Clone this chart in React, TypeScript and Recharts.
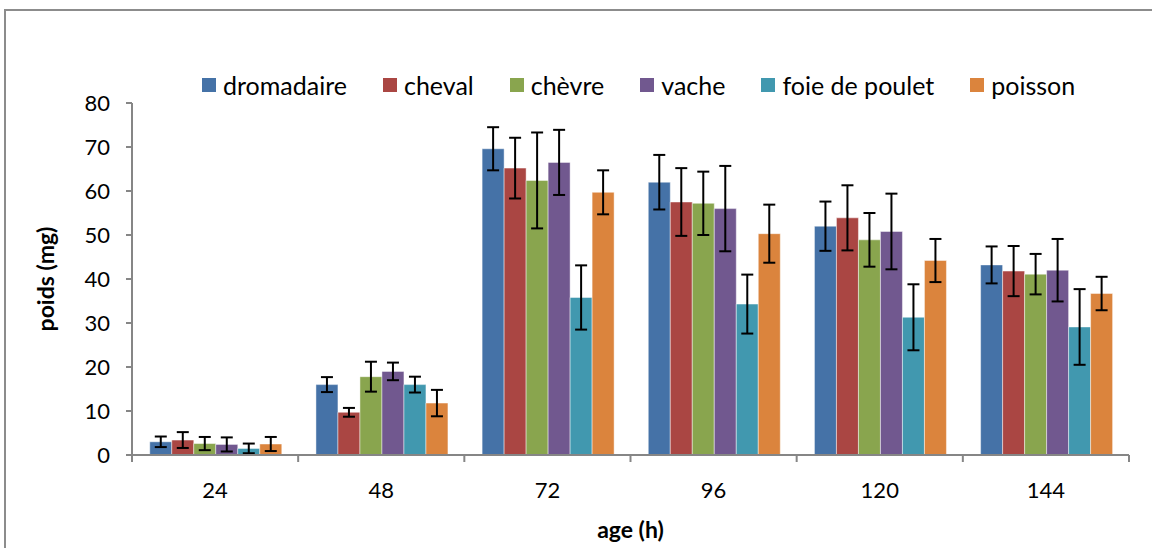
import { Bar, BarChart, ErrorBar, Label, XAxis, YAxis } from 'recharts'

// ages (h) and mean weights (mg) with their error bars
const ages = ['24', '48', '72', '96', '120', '144']

const dromadaire = [3.0, 16.0, 69.6, 62.0, 52.0, 43.2]
const dromadaireErr = [1.2, 1.7, 4.9, 6.2, 5.6, 4.2]
const cheval = [3.4, 9.7, 65.2, 57.5, 53.9, 41.8]
const chevalErr = [1.8, 1.0, 6.9, 7.7, 7.4, 5.7]
const chevre = [2.6, 17.8, 62.4, 57.2, 48.9, 41.1]
const chevreErr = [1.5, 3.4, 10.9, 7.2, 6.1, 4.6]
const vache = [2.4, 19.0, 66.5, 56.0, 50.8, 42.0]
const vacheErr = [1.6, 2.0, 7.4, 9.7, 8.6, 7.1]
const foie = [1.5, 16.0, 35.8, 34.3, 31.3, 29.1]
const foieErr = [1.1, 1.8, 7.3, 6.7, 7.5, 8.6]
const poisson = [2.5, 11.8, 59.7, 50.3, 44.2, 36.7]
const poissonErr = [1.6, 3.0, 5.0, 6.6, 4.9, 3.8]

const yTicks = [0, 10, 20, 30, 40, 50, 60, 70, 80]

const series = [
  { key: 'dromadaire', name: 'dromadaire', values: dromadaire, errors: dromadaireErr, color: '#4572A7' },
  { key: 'cheval', name: 'cheval', values: cheval, errors: chevalErr, color: '#AA4643' },
  { key: 'chevre', name: 'chèvre', values: chevre, errors: chevreErr, color: '#89A54E' },
  { key: 'vache', name: 'vache', values: vache, errors: vacheErr, color: '#71588F' },
  { key: 'foie', name: 'foie de poulet', values: foie, errors: foieErr, color: '#4198AF' },
  { key: 'poisson', name: 'poisson', values: poisson, errors: poissonErr, color: '#DB843D' },
]

const data = ages.map((age, i) => {
  const row: Record<string, string | number> = { age }
  series.forEach((s) => {
    row[s.key] = s.values[i]
    row[`${s.key}Err`] = s.errors[i]
  })
  return row
})

const W = 1152
const H = 548
const margin = { top: 103, right: 23, left: 72, bottom: 0 }
const yAxisWidth = 60
const band = (W - margin.left - margin.right - yAxisWidth) / ages.length
const FONT = 'Lato, "Open Sans", sans-serif'
const AXIS = '#868686'

function AgeTick(props: any) {
  const { x, y, payload, index } = props
  const half = band / 2
  return (
    <g>
      <line x1={x - half} y1={y} x2={x - half} y2={y + 7} stroke={AXIS} strokeWidth={2} />
      {index === ages.length - 1 && (
        <line x1={x + half} y1={y} x2={x + half} y2={y + 7} stroke={AXIS} strokeWidth={2} />
      )}
      <text x={x} y={y + 43} textAnchor="middle" fontSize={22} fontFamily={FONT} fill="#000">
        {payload.value}
      </text>
    </g>
  )
}

function YTitle(props: any) {
  const { viewBox } = props
  const cx = viewBox.x - 27
  const cy = viewBox.y + viewBox.height / 2
  return (
    <text
      x={cx}
      y={cy}
      transform={`rotate(-90 ${cx} ${cy})`}
      textAnchor="middle"
      dominantBaseline="central"
      fontSize={23}
      fontWeight="bold"
      fontFamily={FONT}
      fill="#000"
    >
      poids (mg)
    </text>
  )
}

export default function App() {
  return (
    <div
      style={{
        position: 'absolute',
        left: 0,
        top: 0,
        width: W,
        height: H,
        overflow: 'hidden',
        background: '#fff',
        fontFamily: FONT,
      }}
    >
      <div
        style={{
          position: 'absolute',
          left: 4,
          top: 9,
          width: 1170,
          height: 600,
          border: '2px solid #8c8c8c',
        }}
      />
      <div
        style={{
          position: 'absolute',
          top: 70,
          left: 202,
          display: 'flex',
          alignItems: 'center',
          fontSize: 25,
          lineHeight: '30px',
          whiteSpace: 'nowrap',
        }}
      >
        {series.map((s) => (
          <div key={s.key} style={{ display: 'flex', alignItems: 'center', marginRight: 36 }}>
            <span style={{ width: 14, height: 14, background: s.color, marginRight: 7 }} />
            <span>{s.name}</span>
          </div>
        ))}
      </div>
      <div style={{ position: 'absolute', left: 0, top: 0 }}>
        <BarChart
          width={W}
          height={H}
          data={data}
          margin={margin}
          barCategoryGap="10.7%"
          barGap={0}
        >
          <XAxis
            dataKey="age"
            height={93}
            axisLine={{ stroke: AXIS, strokeWidth: 2 }}
            tickLine={false}
            tickSize={0}
            tickMargin={0}
            tick={<AgeTick />}
            interval={0}
          >
            <Label
              value="age (h)"
              position="insideBottom"
              offset={10}
              style={{ fontSize: 23, fontWeight: 'bold', fontFamily: FONT, fill: '#000' }}
            />
          </XAxis>
          <YAxis
            width={yAxisWidth}
            domain={[0, 80]}
            ticks={yTicks}
            interval={0}
            axisLine={{ stroke: AXIS, strokeWidth: 2 }}
            tickLine={{ stroke: AXIS, strokeWidth: 2 }}
            tickSize={6}
            tickMargin={16}
            tick={{ fontSize: 22, fontFamily: FONT, fill: '#000' }}
          >
            <Label content={<YTitle />} />
          </YAxis>
          {series.map((s) => (
            <Bar
              key={s.key}
              dataKey={s.key}
              name={s.name}
              fill={s.color}
              stroke="rgba(255,255,255,0.45)"
              strokeWidth={1}
              isAnimationActive={false}
            >
              <ErrorBar
                dataKey={`${s.key}Err`}
                direction="y"
                width={6}
                stroke="#000"
                strokeWidth={2}
                isAnimationActive={false}
              />
            </Bar>
          ))}
        </BarChart>
      </div>
    </div>
  )
}
